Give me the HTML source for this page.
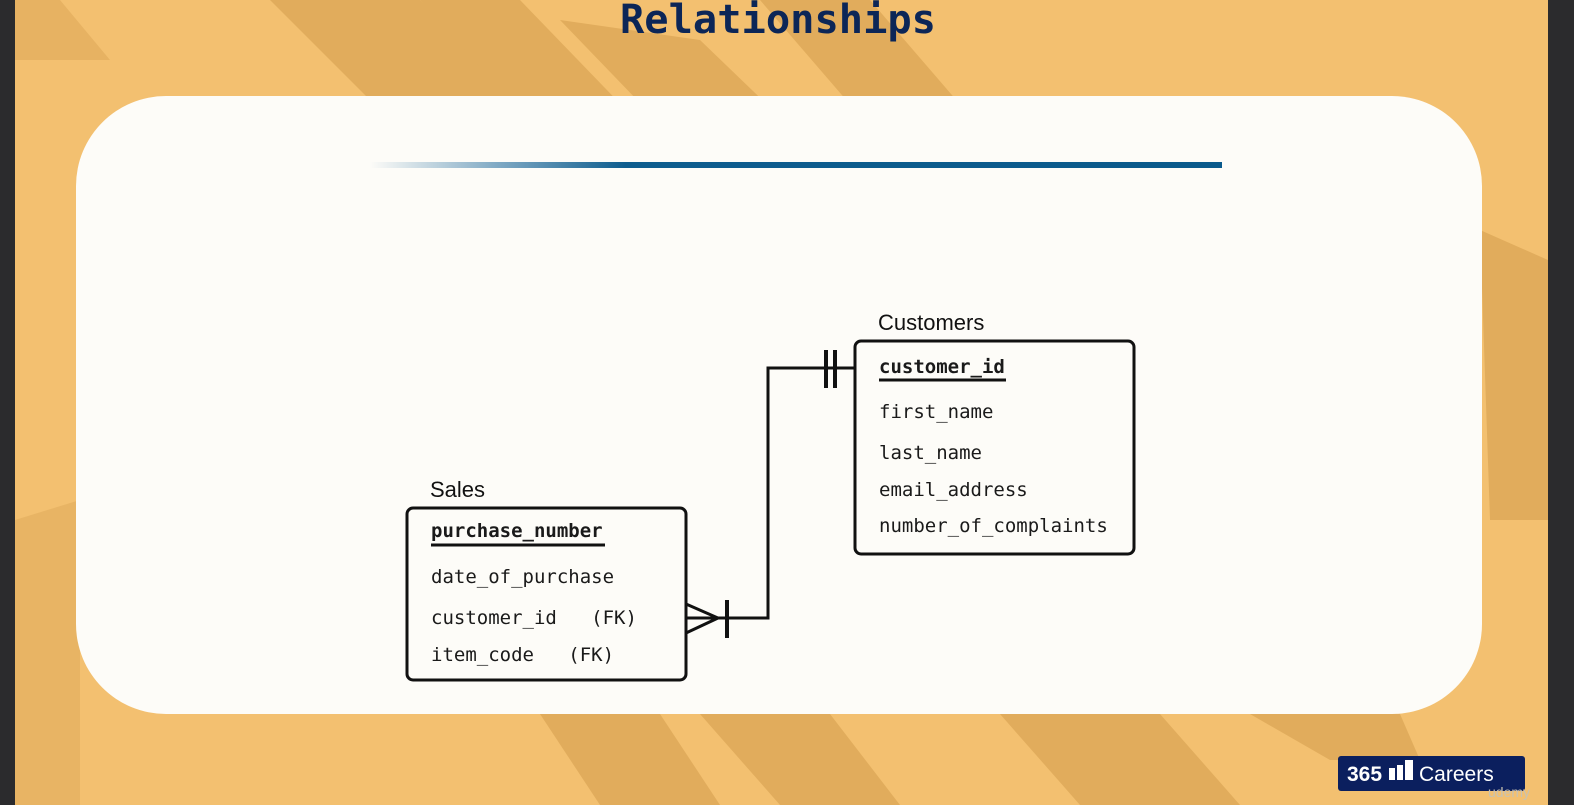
<!DOCTYPE html>
<html><head><meta charset="utf-8"><style>
html,body{margin:0;padding:0;width:1574px;height:805px;overflow:hidden;background:#2b2b2d}
</style></head><body>
<svg width="1574" height="805" viewBox="0 0 1574 805" xmlns="http://www.w3.org/2000/svg">
<rect x="15" y="0" width="1533" height="805" fill="#f3c070"/>
<g fill="#e1ac5c">
<polygon points="270,0 420,0 700,290 560,290"/>
<polygon points="420,0 520,0 800,290 680,290"/>
<polygon points="560,20 700,40 960,290 820,290"/>
<polygon points="760,0 870,0 1120,290 1010,290"/>
<polygon points="15,0 60,0 110,60 15,60" opacity="0.7"/>
<polygon points="1480,230 1548,260 1548,520 1490,520"/>
<polygon points="15,520 80,500 80,805 15,805" opacity="0.6"/>
<polygon points="540,714 660,714 720,805 600,805"/>
<polygon points="700,714 830,714 900,805 780,805"/>
<polygon points="1000,714 1160,714 1240,805 1080,805"/>
<polygon points="1250,714 1400,714 1420,760 1330,760"/>
</g>
<rect x="76" y="96" width="1406" height="618" rx="90" ry="90" fill="#fdfcf8"/>
<defs><linearGradient id="g" x1="0" x2="1"><stop offset="0" stop-color="#fdfcf8"/><stop offset="0.15" stop-color="#7fa9c4"/><stop offset="0.3" stop-color="#0e5d8e"/><stop offset="1" stop-color="#0a5a8c"/></linearGradient></defs>
<rect x="370" y="162" width="852" height="6" fill="url(#g)"/>
<text x="778" y="33" text-anchor="middle" font-family="DejaVu Sans Mono, monospace" font-weight="bold" font-size="40" fill="#0c2657" textLength="316" lengthAdjust="spacingAndGlyphs">Relationships</text>
<g fill="none" stroke="#111" stroke-width="3">
<rect x="407" y="508" width="279" height="172" rx="6"/>
<rect x="855" y="341" width="279" height="213" rx="6"/>
<polyline points="686,618 768,618 768,368 854,368"/>
<polyline points="686,604 718,618 686,633"/>
</g>
<g stroke="#111" stroke-width="4">
<line x1="727" y1="600" x2="727" y2="638"/>
<line x1="826" y1="350" x2="826" y2="388"/>
<line x1="835" y1="350" x2="835" y2="388"/>
<line x1="431" y1="545" x2="605" y2="545" stroke-width="3"/>
<line x1="879" y1="380" x2="1006" y2="380" stroke-width="3"/>
</g>
<g font-family="Liberation Sans, sans-serif" font-size="22" fill="#111">
<text x="430" y="497">Sales</text>
<text x="878" y="330">Customers</text>
</g>
<g font-family="DejaVu Sans Mono, monospace" font-size="19" fill="#1a1a1a">
<text x="431" y="537" font-weight="bold">purchase_number</text>
<text x="431" y="583">date_of_purchase</text>
<text x="431" y="624" xml:space="preserve">customer_id   (FK)</text>
<text x="431" y="661" xml:space="preserve">item_code   (FK)</text>
<text x="879" y="373" font-weight="bold">customer_id</text>
<text x="879" y="418">first_name</text>
<text x="879" y="459">last_name</text>
<text x="879" y="496">email_address</text>
<text x="879" y="532">number_of_complaints</text>
</g>
<rect x="1338" y="756" width="187" height="35" rx="3" fill="#0b1f5e"/>
<text x="1347" y="781" font-family="Liberation Sans, sans-serif" font-weight="bold" font-size="21" fill="#fff">365</text>
<rect x="1389" y="768" width="6" height="12" fill="#fff"/>
<rect x="1397" y="765" width="6" height="15" fill="#fff"/>
<rect x="1405" y="760" width="8" height="20" fill="#fff"/>
<text x="1419" y="781" font-family="Liberation Sans, sans-serif" font-size="21" fill="#fff">Careers</text>
<text x="1488" y="797" font-family="Liberation Sans, sans-serif" font-size="14" fill="#c9c2b0">udemy</text>
</svg>
</body></html>
